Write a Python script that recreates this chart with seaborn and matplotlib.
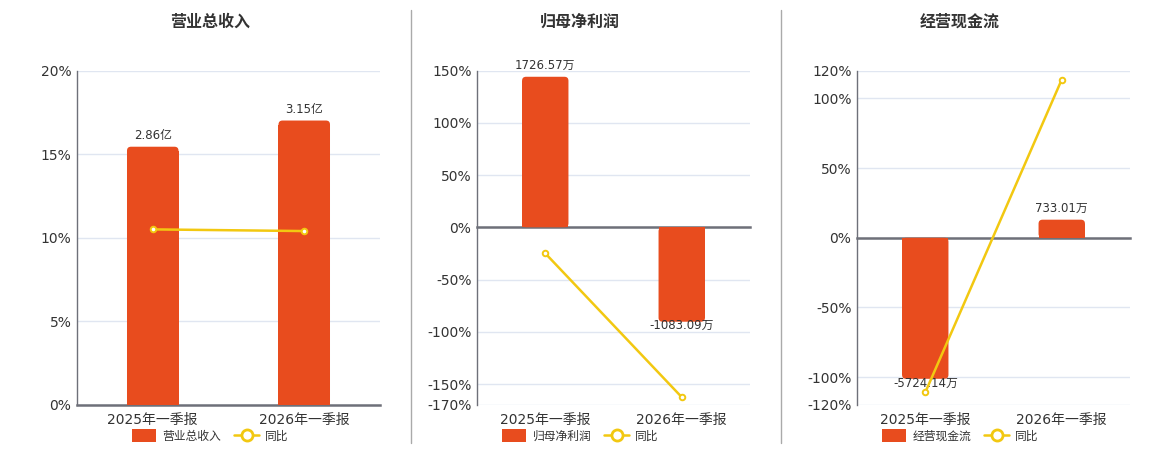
import numpy as np
import matplotlib.pyplot as plt
import seaborn as sns
from matplotlib.lines import Line2D
from matplotlib.patches import Patch, FancyBboxPatch
import matplotlib.transforms as mtransforms

# Data
categories = ["2025年一季报", "2026年一季报"]
titles = ["营业总收入", "归母净利润", "经营现金流"]

revenue = [2.86, 3.15]  # 亿
revenue_labels = ["2.86亿", "3.15亿"]
revenue_yoy = [10.5, 10.4]  # %

profit = [1726.57, -1083.09]  # 万
profit_labels = ["1726.57万", "-1083.09万"]
profit_yoy = [-24.9, -162.5]

cashflow = [-5724.14, 733.01]  # 万
cashflow_labels = ["-5724.14万", "733.01万"]
cashflow_yoy = [-111.0, 113.5]

pct_ticks = [
    [0, 5, 10, 15, 20],
    [-170, -150, -100, -50, 0, 50, 100, 150],
    [-120, -100, -50, 0, 50, 100, 120],
]
# value per 1% on the hidden bar axis
bar_scale = [0.1852, 11.99, 56.56]

panels = [
    (revenue, revenue_labels, revenue_yoy),
    (profit, profit_labels, profit_yoy),
    (cashflow, cashflow_labels, cashflow_yoy),
]

BAR = "#E84C1E"
LINE = "#F2C811"
AXIS = "#6E7079"
GRID = "#E0E6F1"
TEXT = "#333333"

sns.set_theme(style="white")
plt.rcParams["font.family"] = ["DejaVu Sans", "Noto Sans CJK SC"]

W, H = 1160, 450
fig = plt.figure(figsize=(W / 100, H / 100), dpi=100)

lefts = [77, 477, 857]
widths = [303, 273, 273]
centers = [210, 580, 960]
ax_h = H - 45 - 70.5
radius_px = 4

for i, (vals, labels, yoy) in enumerate(panels):
    rect = [lefts[i] / W, 45 / H, widths[i] / W, ax_h / H]
    ax = fig.add_axes(rect)
    ax_bar = ax.twinx()
    ax_line = ax.twinx()

    ticks = pct_ticks[i]
    lo, hi = ticks[0], ticks[-1]
    n = len(categories)

    # bars on a hidden axis
    sns.barplot(x=categories, y=vals, ax=ax_bar, color=BAR, width=0.34,
                saturation=1, edgecolor="none")
    ax_bar.set_ylim(lo * bar_scale[i], hi * bar_scale[i])

    # round the outer end of each bar
    x_per_px = n / widths[i]
    y_per_px = (hi - lo) * bar_scale[i] / ax_h
    rx = radius_px * x_per_px
    ry = radius_px * y_per_px
    for p in list(ax_bar.patches):
        h = p.get_height()
        sgn = 1 if h >= 0 else -1
        rb = FancyBboxPatch((p.get_x(), min(0, h)), p.get_width(), abs(h),
                            boxstyle=f"round,pad=0,rounding_size={rx}",
                            mutation_aspect=y_per_px / x_per_px,
                            facecolor=BAR, edgecolor="none")
        ax_bar.add_patch(rb)
        p.set_height(h - sgn * ry)

    for j, (v, lab) in enumerate(zip(vals, labels)):
        off = 8 if v >= 0 else -3
        ax_bar.annotate(lab, (j, v), xytext=(0, off), textcoords="offset points",
                        ha="center", va="center", fontsize=8.5, color=TEXT)

    # yoy line
    sns.lineplot(x=np.arange(n), y=yoy, ax=ax_line, color=LINE,
                 linewidth=1.8, marker="o", markersize=4,
                 markerfacecolor="white", markeredgecolor=LINE,
                 markeredgewidth=1.4)
    ax_line.set_ylim(lo, hi)

    for a in (ax_bar, ax_line):
        a.set_xlabel("")
        a.set_ylabel("")
        a.set_yticks([])
        for s in a.spines.values():
            s.set_visible(False)

    # visible percentage axis
    ax.set_ylim(lo, hi)
    ax.set_yticks(ticks)
    ax.set_yticklabels([f"{t}%" for t in ticks])
    ax.yaxis.grid(True, color=GRID, linewidth=1)
    ax.tick_params(axis="y", length=0, pad=4, labelsize=10, labelcolor=TEXT)
    ax.set_xlim(-0.5, n - 0.5)
    ax_bar.set_xlim(-0.5, n - 0.5)
    ax.set_xticks(np.arange(n + 1) - 0.5)
    ax.set_xticklabels([])
    ax.tick_params(axis="x", length=5, width=1, color=AXIS, direction="out")
    ax.spines["top"].set_visible(False)
    ax.spines["right"].set_visible(False)
    ax.spines["left"].set_color(AXIS)
    ax.spines["left"].set_linewidth(1)
    ax.spines["bottom"].set_position(("data", 0))
    ax.spines["bottom"].set_color(AXIS)
    ax.spines["bottom"].set_linewidth(1.8)

    trans = mtransforms.blended_transform_factory(ax.transData, ax.transAxes)
    for j, c in enumerate(categories):
        ax.text(j, -15 / ax_h, c, transform=trans, ha="center", va="center",
                fontsize=10, color=TEXT)

    fig.text(centers[i] / W, 1 - 22 / H, titles[i], ha="center", va="center",
             fontsize=11.5, fontweight="bold", color=TEXT,
             family=["Noto Sans CJK SC", "DejaVu Sans"])

    handles = [
        Patch(facecolor=BAR, edgecolor="none"),
        Line2D([0], [0], color=LINE, lw=1.8, marker="o", markersize=8,
               markerfacecolor="white", markeredgecolor=LINE, markeredgewidth=2),
    ]
    fig.legend(handles, [titles[i], "同比"], loc="center",
               bbox_to_anchor=(centers[i] / W, 1 - 436 / H), ncol=2,
               frameon=False, fontsize=8.5, handlelength=2.1, handleheight=1.2,
               handletextpad=0.5, columnspacing=1.1, labelcolor=TEXT,
               borderpad=0, borderaxespad=0)

# panel separators
for x in (410.5, 781):
    fig.add_artist(Line2D([x / W, x / W], [1 - 443 / H, 1 - 10 / H],
                          transform=fig.transFigure, color="#AAAAAA", lw=1))

fig.savefig("out.png", dpi=100)
